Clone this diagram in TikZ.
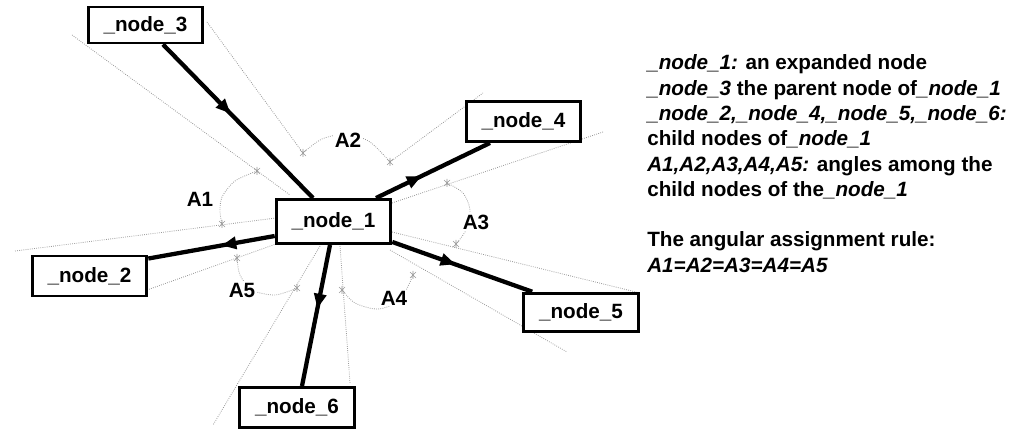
\documentclass[tikz,border=0pt]{standalone}
\usepackage{fontspec}
\setmainfont{Liberation Sans}
\usetikzlibrary{arrows.meta,decorations.markings,calc}
\pgfdeclarelayer{bg}
\pgfsetlayers{bg,main}
\begin{document}
\begin{tikzpicture}[x=0.75pt,y=-0.75pt,
  box/.style={draw=black,line width=2.2pt,fill=white,minimum width=86pt,minimum height=30pt,inner sep=0pt,font=\fontsize{15.5}{18}\selectfont\bfseries},
  edge/.style={line width=3.2pt,black,decoration={markings,mark=at position #1 with {\arrow{Triangle[length=11pt,width=9pt]}}},postaction=decorate},
  edge/.default=0.45,
  guide/.style={black!40,line width=0.6pt,densely dotted},
  lbl/.style={font=\fontsize{15.5}{18}\selectfont\bfseries,inner sep=1pt,fill=white},
  txt/.style={font=\fontsize{15.5}{18}\selectfont\bfseries,anchor=base west,inner sep=0pt},
  pics/mk/.style={code={\draw[black!40,line width=0.5pt] (-3,-3)--(3,3) (-3,3)--(3,-3) (0,-4)--(0,4);}}
]
\useasboundingbox (0,0) rectangle (1015,431);

% nodes
\node[box,minimum height=27pt] (n3) at (145.5,25) {\_node\_3};
\node[box,minimum height=33pt] (n1) at (333.5,221.5) {\_node\_1};
\node[box] (n2) at (89.5,276) {\_node\_2};
\node[box] (n4) at (523.5,121.5) {\_node\_4};
\node[box,minimum height=29pt] (n5) at (581,312.5) {\_node\_5};
\node[box] (n6) at (297,407.5) {\_node\_6};

\begin{pgfonlayer}{bg}
% guide lines
\draw[guide] (72,35) -- (290,195);
\draw[guide] (207,22) -- (303,153);
\draw[guide] (390,162) -- (483,93);
\draw[guide] (392,203) -- (603,132);
\draw[guide] (392,232) -- (640,293);
\draw[guide] (390,250) -- (567,352);
\draw[guide] (340,246) -- (350,383);
\draw[guide] (320,246) -- (213,425);
\draw[guide] (147,290) -- (276,244);
\draw[guide] (15,251) -- (276,218);
% angle arcs
\draw[guide] plot[smooth] coordinates {(303,153) (322,139) (347,134) (370,142) (390,162)};
\draw[guide] plot[smooth] coordinates {(257,171) (235,181) (222,197) (220,212) (222,224)};
\draw[guide] plot[smooth] coordinates {(447,183) (463,193) (470,210) (466,230) (456,244)};
\draw[guide] plot[smooth] coordinates {(342,290) (355,303) (378,309) (400,300) (413,275)};
\draw[guide] plot[smooth] coordinates {(237,258) (240,275) (252,290) (275,295) (297,288)};
% markers
\foreach \p in {(257,171),(222,224),(303,153),(390,162),(447,183),(456,244),(413,275),(342,290),(297,288),(237,258)}
  \pic at \p {mk};

% edges
\draw[edge] ($(n3.south)+(17.5,0)$) -- ($(n1.north)+(-20.5,0)$);
\draw[edge=0.4] ($(n1.north)+(42.5,0)$) -- ($(n4.south)+(-33.5,0)$);
\draw[edge=0.45] ($(n1.south east)+(0,-3)$) -- ($(n5.north west)+(10,0)$);
\draw[edge=0.42] ($(n1.west)+(0,14.5)$) -- ($(n2.north east)+(0,4)$);
\draw[edge=0.45] ($(n1.south)+(-3.5,0)$) -- ($(n6.north)+(5,0)$);
\end{pgfonlayer}

% angle labels
\node[lbl] (a1) at (200,199) {A1};
\node[lbl] (a2) at (348,140) {A2};
\node[lbl] (a3) at (476,222) {A3};
\node[lbl] (a4) at (394,298) {A4};
\node[lbl] (a5) at (242,290) {A5};

% legend
\node[txt] (t1) at (647,70) {\textit{\_node\_1:} an expanded node};
\node[txt] (t2) at (647,95.3) {\textit{\_node\_3} the parent node of\textit{\_node\_1}};
\node[txt] (t3) at (647,120.6) {\textit{\_node\_2,\_node\_4,\_node\_5,\_node\_6:}};
\node[txt] (t4) at (647,145.9) {child nodes of\textit{\_node\_1}};
\node[txt] (t5) at (647,171.2) {\textit{A1,A2,A3,A4,A5:} angles among the};
\node[txt] (t6) at (647,196.5) {child nodes of the\textit{\_node\_1}};
\node[txt] (t7) at (647,247) {The angular assignment rule:};
\node[txt] (t8) at (647,272.5) {\textit{A1=A2=A3=A4=A5}};
\end{tikzpicture}
\end{document}
